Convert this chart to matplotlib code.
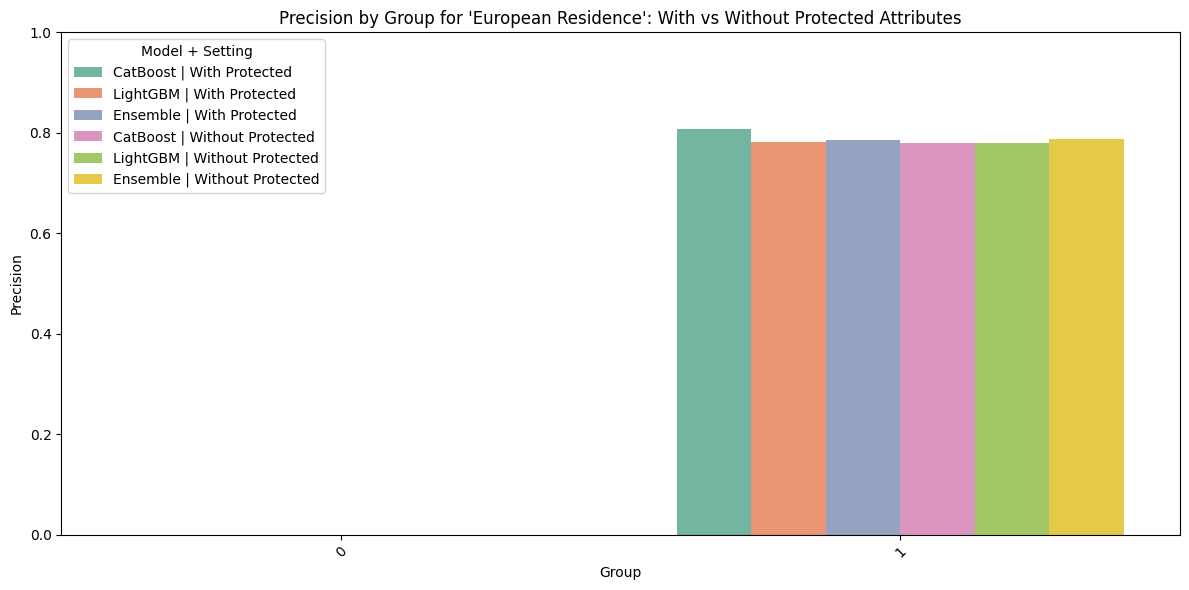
import matplotlib
matplotlib.use('Agg')
import matplotlib.pyplot as plt
import pandas as pd
import seaborn as sns

groups = ['0', '1']
settings = ['CatBoost | With Protected', 'LightGBM | With Protected',
            'Ensemble | With Protected', 'CatBoost | Without Protected',
            'LightGBM | Without Protected', 'Ensemble | Without Protected']
precision_g0 = [0.0, 0.0, 0.0, 0.0, 0.0, 0.0]
precision_g1 = [0.807, 0.781, 0.785, 0.780, 0.780, 0.787]

rows = []
for s, v0, v1 in zip(settings, precision_g0, precision_g1):
    rows.append({'Group': groups[0], 'Setting': s, 'Precision': v0})
    rows.append({'Group': groups[1], 'Setting': s, 'Precision': v1})
df = pd.DataFrame(rows)

plt.figure(figsize=(12, 6), dpi=100)
sns.barplot(data=df, x='Group', y='Precision', hue='Setting',
            hue_order=settings, order=groups, palette='Set2')
plt.title("Precision by Group for 'European Residence': With vs Without Protected Attributes")
plt.xlabel('Group')
plt.ylabel('Precision')
plt.ylim(0, 1)
plt.xticks(rotation=45)
plt.legend(title='Model + Setting', loc='upper left')
plt.tight_layout()
plt.savefig('out.png', dpi=100, bbox_inches='tight')
